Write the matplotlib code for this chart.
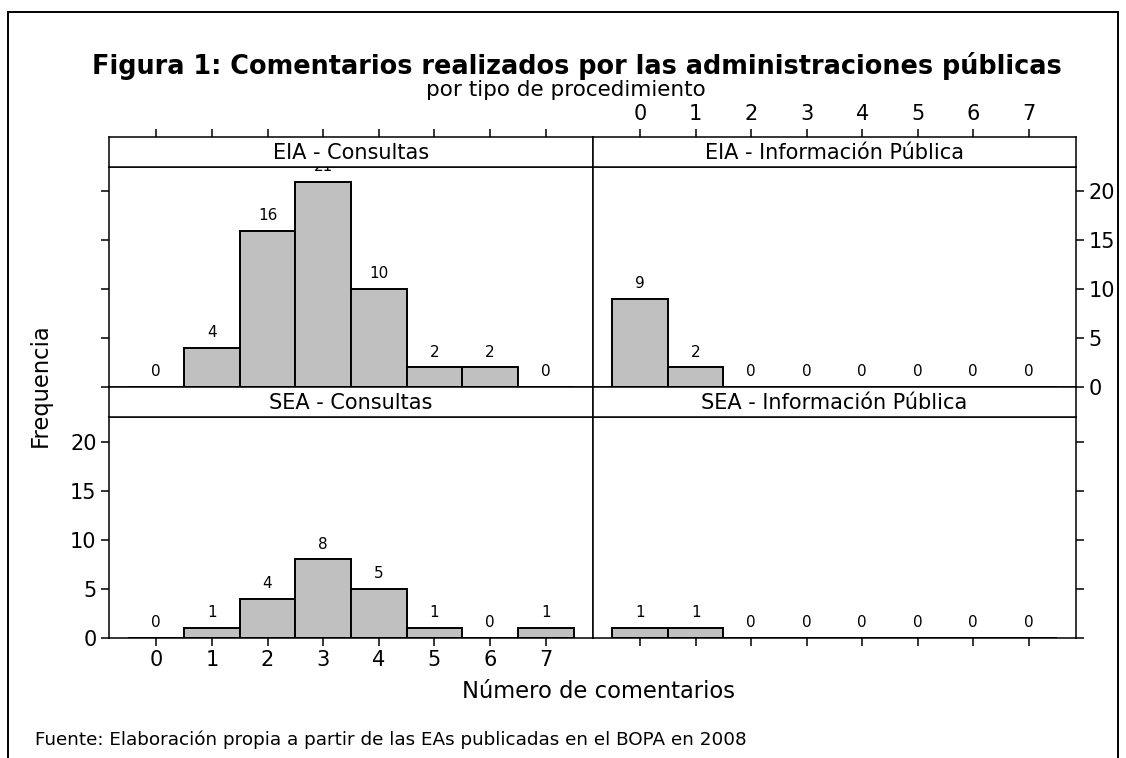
import matplotlib
matplotlib.use("Agg")
import matplotlib.pyplot as plt
from matplotlib.lines import Line2D

# comentarios por EA, agrupados por tipo de procedimiento
comentarios = [0, 1, 2, 3, 4, 5, 6, 7]
eia_consultas = [0, 4, 16, 21, 10, 2, 2, 0]
eia_info_publica = [9, 2, 0, 0, 0, 0, 0, 0]
sea_consultas = [0, 1, 4, 8, 5, 1, 0, 1]
sea_info_publica = [1, 1, 0, 0, 0, 0, 0, 0]
y_ticks = [0, 5, 10, 15, 20]

W, H = 1126, 758
fig = plt.figure(figsize=(W / 100, H / 100), dpi=100)
plt.rcParams['font.family'] = 'DejaVu Sans'


def px_axes(x0, y0, x1, y1):
    # pixel box (top-left origin) -> figure axes
    return fig.add_axes([x0 / W, 1 - y1 / H, (x1 - x0) / W, (y1 - y0) / H])


LW = 1.1
cols = [(109, 593), (593, 1076)]
rows = [(137, 167, 387), (387, 417, 638)]

paneles = [
    (0, 0, "EIA - Consultas", eia_consultas),
    (0, 1, "EIA - Información Pública", eia_info_publica),
    (1, 0, "SEA - Consultas", sea_consultas),
    (1, 1, "SEA - Información Pública", sea_info_publica),
]

for r, c, titulo, cuentas in paneles:
    x0, x1 = cols[c]
    s0, s1, p1 = rows[r]
    ax = px_axes(x0, s1, x1, p1)
    st = px_axes(x0, s0, x1, s1)

    ax.bar(comentarios, cuentas, width=1.0, color='#c0c0c0',
           edgecolor='black', linewidth=1.4, zorder=2)
    for xv, cv in zip(comentarios, cuentas):
        ax.text(xv, cv + 0.8, str(cv), ha='center', va='bottom', fontsize=11)
    ax.set_xlim(-0.85, 7.85)
    ax.set_ylim(0, 22.5)
    st.set_xlim(-0.85, 7.85)
    st.set_ylim(0, 1)

    for a in (ax, st):
        for sp in a.spines.values():
            sp.set_linewidth(LW)
        a.tick_params(direction='out', length=6, width=1.1, labelsize=15,
                      bottom=False, top=False, left=False, right=False,
                      labelbottom=False, labeltop=False,
                      labelleft=False, labelright=False)

    st.text(3.5, 0.47, titulo, ha='center', va='center', fontsize=15)
    st.set_yticks([])

    # ejes alternados, estilo lattice
    if r == 0:
        st.set_xticks(comentarios)
        st.tick_params(top=True, labeltop=(c == 1), pad=3)
        ax.set_xticks([])
    else:
        ax.set_xticks(comentarios)
        ax.tick_params(bottom=True, labelbottom=(c == 0), pad=3)
        st.set_xticks([])

    ax.set_yticks(y_ticks)
    if c == 0:
        ax.tick_params(left=True, labelleft=(r == 1), pad=3)
    else:
        ax.tick_params(right=True, labelright=(r == 0), pad=3)

fig.text(577 / W, 1 - 66 / H,
         "Figura 1: Comentarios realizados por las administraciones públicas",
         ha='center', va='center', fontsize=18.4, fontweight='bold')
fig.text(566 / W, 1 - 90 / H, "por tipo de procedimiento",
         ha='center', va='center', fontsize=15.5)
fig.text(40 / W, 1 - 385 / H, "Frequencia", rotation=90,
         ha='center', va='center', fontsize=16.3)
fig.text(598 / W, 1 - 692 / H, "Número de comentarios",
         ha='center', va='center', fontsize=16.3)
fig.text(35 / W, 1 - 740 / H,
         "Fuente: Elaboración propia a partir de las EAs publicadas en el BOPA en 2008",
         ha='left', va='center', fontsize=13.2)

# marco exterior
for xs, ys in [((8, 8), (12, H)), ((8, 1118), (12, 12)), ((1118, 1118), (12, H))]:
    fig.add_artist(Line2D([x / W for x in xs], [1 - y / H for y in ys],
                          color='black', linewidth=1.4))

fig.savefig("out.png", dpi=100)
